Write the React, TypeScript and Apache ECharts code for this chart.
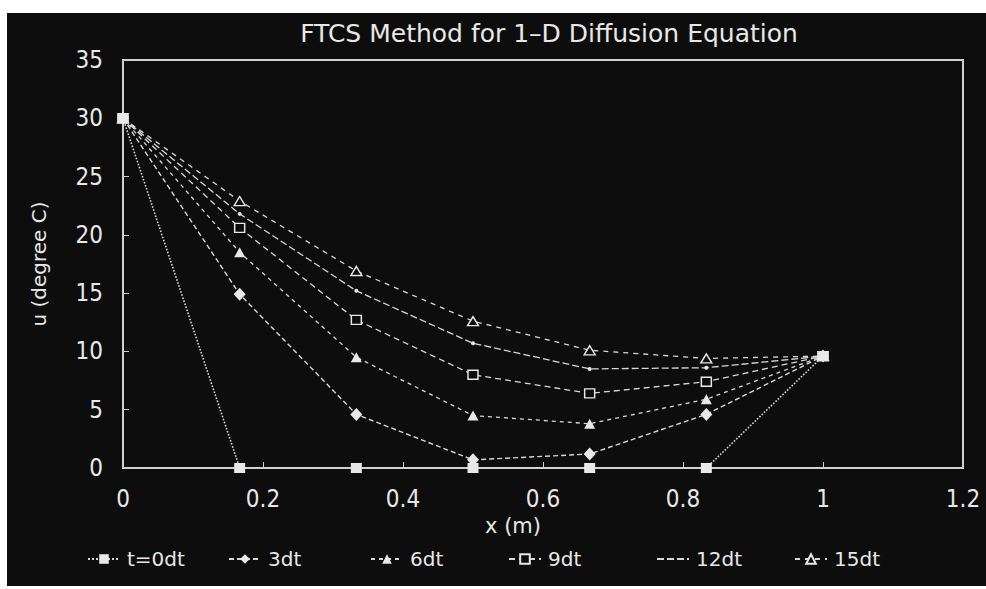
import React, { useEffect, useRef } from "react";
import * as echarts from "echarts";

// Grid positions along the rod (m)
const xNodes = [0, 1 / 6, 2 / 6, 3 / 6, 4 / 6, 5 / 6, 1];

// Temperature profiles u (degree C) after n time steps
const u0 = [30, 0, 0, 0, 0, 0, 9.6];
const u3 = [30, 14.9, 4.6, 0.7, 1.2, 4.6, 9.6];
const u6 = [30, 18.5, 9.5, 4.5, 3.8, 5.9, 9.6];
const u9 = [30, 20.6, 12.7, 8.0, 6.4, 7.4, 9.6];
const u12 = [30, 21.8, 15.2, 10.7, 8.5, 8.6, 9.6];
const u15 = [30, 22.9, 16.9, 12.6, 10.1, 9.4, 9.6];

const seriesNames = ["t=0dt", "3dt", "6dt", "9dt", "12dt", "15dt"];
const legendLefts = [75, 216, 358, 496, 644, 782];

const BG = "#0e0d0d";
const FG = "#e8e8e8";
const NUM_FONT = "'Liberation Sans Narrow', 'DejaVu Sans Condensed', 'Roboto', sans-serif";
const TXT_FONT = "'DejaVu Sans', 'Noto Sans', sans-serif";

export default function App() {
  const ref = useRef<HTMLDivElement>(null);

  useEffect(() => {
    if (!ref.current) return;
    document.body.style.margin = "0";
    const chart = echarts.init(ref.current, null, { renderer: "svg" });

    const pairs = (ys: number[]) => xNodes.map((x, i) => [x, ys[i]]);

    const solid = (symbol: string, size: number | number[]) => ({
      symbol,
      symbolSize: size,
      itemStyle: { color: FG, borderWidth: 0 },
    });
    const hollow = (symbol: string, size: number | number[]) => ({
      symbol,
      symbolSize: size,
      itemStyle: { color: BG, borderColor: FG, borderWidth: 1.4 },
    });

    const styles = [
      { ...solid("rect", [11, 10]), line: { type: "dotted", width: 1.6 } },
      { ...solid("diamond", [12, 13]), line: { type: [5, 3], width: 1.4 } },
      { ...solid("triangle", [11, 10]), line: { type: [4, 4], width: 1.3 } },
      { ...hollow("rect", [10, 9]), line: { type: [6, 4], width: 1.3 } },
      { ...solid("circle", 4), line: { type: [7, 3], width: 1.3 } },
      { ...hollow("triangle", [11, 9]), line: { type: [5, 5], width: 1.3 } },
    ];
    const datasets = [u0, u3, u6, u9, u12, u15];

    const series = datasets.map((ys, i) => ({
      name: seriesNames[i],
      type: "line",
      data: pairs(ys),
      symbol: styles[i].symbol,
      symbolSize: styles[i].symbolSize,
      showAllSymbol: true,
      itemStyle: styles[i].itemStyle,
      lineStyle: { color: "#d8d8d8", width: styles[i].line.width, type: styles[i].line.type },
      z: 10 - i,
    }));

    // One legend block per series so each entry sits at its own spot
    const legends = seriesNames.map((name, i) => ({
      data: [i === 4 ? { name, itemStyle: { opacity: 0 } } : name],
      left: legendLefts[i],
      top: 531,
      itemWidth: 32,
      itemHeight: 12,
      itemGap: 4,
      textStyle: { color: FG, fontSize: 20, fontFamily: TXT_FONT, padding: [0, 0, 0, 2] },
      selectedMode: false,
    }));

    chart.setOption({
      animation: false,
      backgroundColor: BG,
      title: {
        text: "FTCS Method for 1\u2013D Diffusion Equation",
        left: 537,
        textAlign: "center",
        top: 3,
        textStyle: { color: FG, fontSize: 25, fontWeight: "normal", fontFamily: TXT_FONT },
      },
      legend: legends,
      grid: {
        left: 116,
        right: 23,
        top: 47,
        bottom: 118,
        show: true,
        borderColor: "#d0d0d0",
        borderWidth: 2,
        backgroundColor: "transparent",
      },
      xAxis: {
        type: "value",
        min: 0,
        max: 1.2,
        interval: 0.2,
        name: "x (m)",
        nameLocation: "middle",
        nameGap: 45,
        nameTextStyle: { color: FG, fontSize: 21, fontFamily: TXT_FONT, padding: [0, 60, 0, 0] },
        axisLine: { show: true, lineStyle: { color: "#d0d0d0", width: 2 } },
        axisTick: { show: true, inside: true, length: 6, lineStyle: { color: "#d0d0d0" } },
        axisLabel: { color: FG, fontSize: 24, fontFamily: NUM_FONT, margin: 19 },
        splitLine: { show: false },
      },
      yAxis: {
        type: "value",
        min: 0,
        max: 35,
        interval: 5,
        name: "u (degree C)",
        nameLocation: "middle",
        nameGap: 74,
        nameTextStyle: { color: FG, fontSize: 20, fontFamily: TXT_FONT },
        axisLine: { show: true, lineStyle: { color: "#d0d0d0", width: 2 } },
        axisTick: { show: true, inside: true, length: 6, lineStyle: { color: "#d0d0d0" } },
        axisLabel: { color: FG, fontSize: 24, fontFamily: NUM_FONT, margin: 20 },
        splitLine: { show: false },
      },
      series,
    });

    return () => chart.dispose();
  }, []);

  return (
    <div style={{ position: "absolute", left: 0, top: 0, width: 986, height: 589, background: "#ffffff" }}>
      <div ref={ref} style={{ position: "absolute", left: 7, top: 13, width: 979, height: 573 }} />
    </div>
  );
}
